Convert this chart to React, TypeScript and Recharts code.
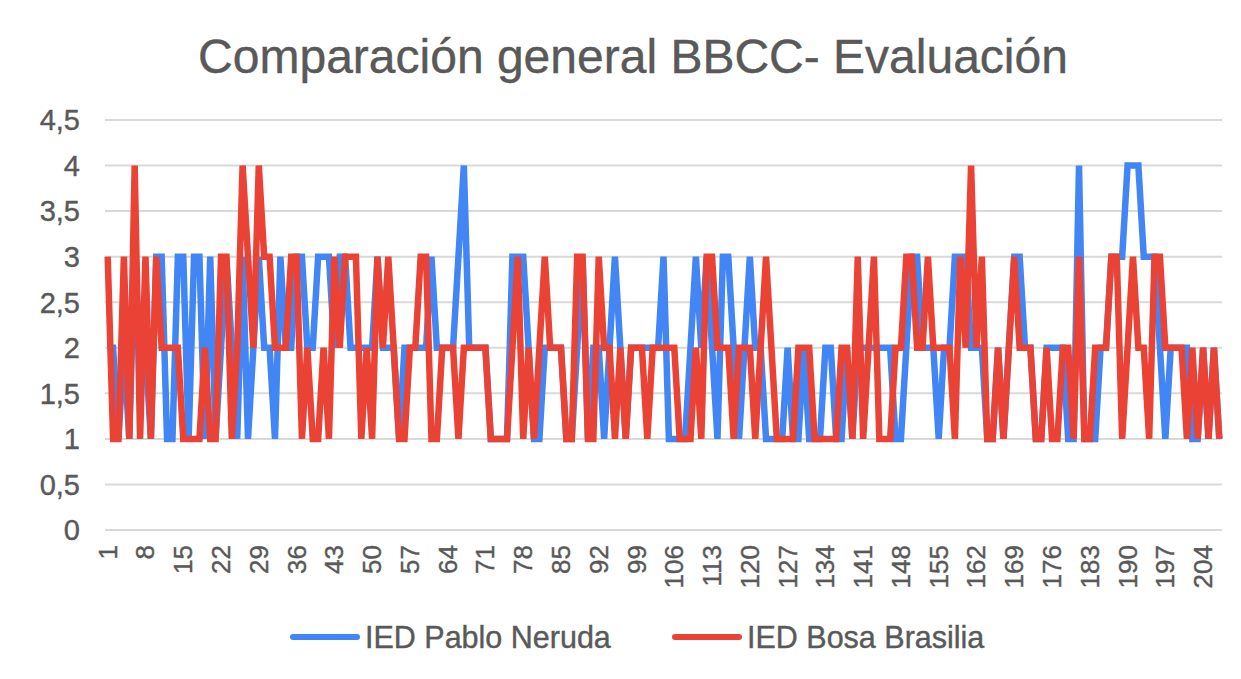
import React from 'react';
import { LineChart, Line, XAxis, YAxis, CartesianGrid } from 'recharts';

// values, one per evaluated item (1..207)
const pabloNeruda = [
  2, 2, 1, 2, 1, 3, 2, 2, 1, 3,
  3, 1, 1, 3, 3, 1, 3, 3, 1, 3,
  1, 2, 3, 2, 1, 3, 1, 2, 3, 2,
  2, 1, 3, 2, 2, 3, 3, 2, 2, 3,
  3, 3, 2, 3, 3, 2, 2, 2, 2, 2,
  3, 2, 2, 2, 1, 2, 2, 2, 2, 2,
  3, 2, 2, 2, 2, 3, 4, 2, 2, 2,
  2, 1, 1, 1, 1, 3, 3, 3, 2, 1,
  1, 2, 2, 2, 2, 1, 1, 2, 3, 1,
  2, 2, 1, 2, 3, 2, 1, 2, 2, 2,
  2, 2, 2, 3, 1, 1, 1, 1, 2, 3,
  2, 3, 2, 1, 3, 3, 2, 1, 2, 3,
  2, 2, 1, 1, 1, 1, 2, 1, 1, 2,
  1, 1, 1, 2, 2, 1, 1, 2, 1, 2,
  2, 2, 2, 2, 2, 2, 1, 1, 2, 3,
  3, 2, 2, 2, 1, 2, 2, 3, 3, 3,
  2, 2, 2, 1, 1, 2, 1, 2, 3, 3,
  2, 2, 1, 1, 2, 2, 2, 2, 1, 1,
  4, 1, 1, 1, 2, 2, 3, 3, 3, 4,
  4, 4, 3, 3, 3, 2, 1, 2, 2, 2,
  2, 1, 1, 2, 1, 2, 1,
];

const bosaBrasilia = [
  3, 1, 1, 3, 1, 4, 1, 3, 1, 3,
  2, 2, 2, 2, 1, 1, 1, 1, 2, 1,
  1, 3, 3, 1, 2, 4, 3, 2, 4, 3,
  3, 2, 2, 2, 3, 3, 1, 2, 1, 1,
  2, 1, 3, 2, 3, 3, 3, 1, 2, 1,
  3, 2, 3, 2, 1, 1, 2, 2, 3, 3,
  1, 1, 2, 2, 2, 1, 2, 2, 2, 2,
  2, 1, 1, 1, 1, 2, 3, 1, 2, 1,
  2, 3, 2, 2, 2, 1, 1, 3, 3, 1,
  1, 3, 2, 2, 1, 2, 1, 2, 2, 2,
  1, 2, 2, 2, 2, 2, 1, 1, 1, 2,
  1, 3, 3, 2, 2, 2, 1, 2, 2, 2,
  1, 2, 3, 2, 1, 1, 1, 1, 2, 2,
  2, 1, 1, 1, 1, 1, 2, 2, 1, 3,
  1, 2, 3, 1, 1, 1, 2, 2, 3, 3,
  2, 2, 3, 2, 2, 2, 2, 1, 3, 2,
  4, 2, 3, 1, 1, 2, 1, 2, 3, 2,
  2, 2, 1, 1, 2, 1, 1, 2, 2, 1,
  3, 1, 1, 2, 2, 2, 3, 3, 1, 2,
  3, 2, 2, 1, 3, 3, 2, 2, 2, 2,
  1, 2, 1, 2, 1, 2, 1,
];

const categories = pabloNeruda.map((_, i) => String(i + 1));
const yTicks = [0, 0.5, 1, 1.5, 2, 2.5, 3, 3.5, 4, 4.5];

const seriesNames = ['IED Pablo Neruda', 'IED Bosa Brasilia'];
const seriesColors = ['#4285F4', '#EA4335'];

const data = categories.map((c, i) => ({
  name: c,
  neruda: pabloNeruda[i],
  bosa: bosaBrasilia[i],
}));

const textColor = '#595959';
const font = '"Liberation Sans", Arial, sans-serif';

const XTick = ({ x, y, payload }: any) => (
  <text
    x={x}
    y={y}
    transform={`rotate(-90, ${x}, ${y})`}
    textAnchor="end"
    dominantBaseline="central"
    fill={textColor}
    stroke={textColor}
    strokeWidth={0.4}
    fontSize={26}
    fontFamily={font}
  >
    {payload.value}
  </text>
);

const App = () => {
  return (
    <div style={{ position: 'relative', width: 1241, height: 679, background: '#fff', fontFamily: font }}>
      <style>{`body { margin: 0; }`}</style>
      <div
        style={{
          position: 'absolute',
          top: 29,
          left: 0,
          width: 1266,
          textAlign: 'center',
          fontSize: 48,
          lineHeight: '56px',
          color: textColor,
          WebkitTextStroke: `0.4px ${textColor}`,
        }}
      >
        Comparación general BBCC- Evaluación
      </div>

      <LineChart width={1241} height={679} data={data} margin={{ top: 120, right: 19, bottom: 0, left: 0 }}>
        <CartesianGrid vertical={false} stroke="#d9d9d9" strokeWidth={2} />
        <XAxis
          dataKey="name"
          scale="band"
          interval={6}
          height={149}
          tickLine={false}
          tickSize={0}
          tickMargin={15}
          axisLine={{ stroke: '#d9d9d9', strokeWidth: 2 }}
          tick={<XTick />}
        />
        <YAxis
          domain={[0, 4.5]}
          ticks={yTicks}
          width={105}
          axisLine={false}
          tickLine={false}
          tickSize={0}
          tickMargin={25}
          tickFormatter={(v: number) => String(v).replace('.', ',')}
          tick={{ fill: textColor, stroke: textColor, strokeWidth: 0.4, fontSize: 29, fontFamily: font }}
        />
        <Line
          type="linear"
          dataKey="neruda"
          name={seriesNames[0]}
          stroke={seriesColors[0]}
          strokeWidth={6.5}
          dot={false}
          isAnimationActive={false}
        />
        <Line
          type="linear"
          dataKey="bosa"
          name={seriesNames[1]}
          stroke={seriesColors[1]}
          strokeWidth={6.5}
          dot={false}
          isAnimationActive={false}
        />
      </LineChart>

      {/* legend */}
      {seriesNames.map((name, i) => (
        <div
          key={name}
          style={{
            position: 'absolute',
            top: 620,
            left: i === 0 ? 290 : 672,
            height: 34,
            display: 'flex',
            alignItems: 'center',
          }}
        >
          <div style={{ width: 70, height: 6, borderRadius: 3, background: seriesColors[i], marginRight: 5 }} />
          <span
            style={{
              fontSize: 30.5,
              color: textColor,
              whiteSpace: 'nowrap',
              WebkitTextStroke: `0.4px ${textColor}`,
            }}
          >
            {name}
          </span>
        </div>
      ))}
    </div>
  );
};

export default App;
